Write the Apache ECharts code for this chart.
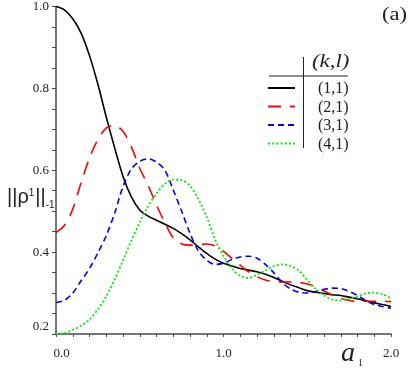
<!DOCTYPE html>
<html>
<head>
<meta charset="utf-8">
<script src="https://cdn.jsdelivr.net/npm/echarts@6/dist/echarts.min.js"></script>
<style>
  html, body { margin: 0; padding: 0; background: #fff; }
  #main { width: 415px; height: 370px; }
</style>
</head>
<body>
<div id="main"></div>
<script>
// a_1 sample points
var a1 = [0, 0.05, 0.1, 0.15, 0.2, 0.25, 0.3, 0.35, 0.4, 0.45, 0.5, 0.55, 0.6, 0.65, 0.7, 0.75, 0.8, 0.85, 0.9, 0.95,
  1.0, 1.05, 1.1, 1.15, 1.2, 1.25, 1.3, 1.35, 1.4, 1.45, 1.5, 1.55, 1.6, 1.65, 1.7, 1.75, 1.8, 1.85, 1.9, 1.95, 2.0];

// ||rho^1||_-1 for each (k,l)
var rho11 = [1.0, 0.992, 0.97, 0.935, 0.88, 0.81, 0.73, 0.655, 0.585, 0.535, 0.503, 0.488, 0.478, 0.468, 0.458, 0.445, 0.43, 0.413, 0.397, 0.383,
  0.373, 0.366, 0.36, 0.356, 0.352, 0.346, 0.338, 0.329, 0.32, 0.313, 0.306, 0.302, 0.299, 0.296, 0.294, 0.29, 0.286, 0.281, 0.276, 0.272, 0.267];
var rho21 = [0.448, 0.465, 0.505, 0.57, 0.63, 0.675, 0.703, 0.71, 0.695, 0.657, 0.605, 0.563, 0.515, 0.472, 0.435, 0.42, 0.417, 0.418, 0.42, 0.415,
  0.402, 0.385, 0.368, 0.352, 0.34, 0.332, 0.328, 0.327, 0.327, 0.326, 0.322, 0.315, 0.305, 0.295, 0.287, 0.282, 0.28, 0.28, 0.28, 0.28, 0.279];
var rho31 = [0.277, 0.282, 0.3, 0.33, 0.36, 0.398, 0.44, 0.495, 0.56, 0.603, 0.622, 0.628, 0.62, 0.6, 0.552, 0.5, 0.446, 0.403, 0.38, 0.37,
  0.373, 0.382, 0.388, 0.39, 0.385, 0.37, 0.35, 0.326, 0.31, 0.302, 0.3, 0.304, 0.309, 0.312, 0.311, 0.304, 0.294, 0.282, 0.272, 0.267, 0.263];
var rho41 = [0.2, 0.202, 0.21, 0.22, 0.235, 0.26, 0.292, 0.333, 0.38, 0.428, 0.473, 0.512, 0.543, 0.567, 0.577, 0.576, 0.562, 0.53, 0.486, 0.43,
  0.39, 0.36, 0.342, 0.337, 0.345, 0.355, 0.365, 0.37, 0.366, 0.355, 0.332, 0.31, 0.294, 0.284, 0.282, 0.286, 0.292, 0.299, 0.301, 0.297, 0.287];

var seriesNames = ['(1,1)', '(2,1)', '(3,1)', '(4,1)'];

// ticks and labels
var xLabelValues = [0, 1, 2];
var xTickValues = [0, 0.1, 0.2, 0.3, 0.4, 0.5, 0.6, 0.7, 0.8, 0.9, 1.0, 1.1, 1.2, 1.3, 1.4, 1.5, 1.6, 1.7, 1.8, 1.9, 2.0];
var yLabelValues = [0.2, 0.4, 0.6, 0.8, 1.0];
var yTickValues = [0.2, 0.25, 0.3, 0.35, 0.4, 0.45, 0.5, 0.55, 0.6, 0.65, 0.7, 0.75, 0.8, 0.85, 0.9, 0.95, 1.0];

function pairs(ys) {
  return a1.map(function (x, i) { return [x, ys[i]]; });
}

var serif = '"Liberation Serif", "DejaVu Serif", serif';
var axisColor = '#4a4a4a';
var textColor = '#222';

var myChart = echarts.init(document.getElementById('main'));

myChart.setOption({
  animation: false,
  backgroundColor: '#fff',
  grid: { left: 56, right: 24, top: 6, bottom: 36 },
  xAxis: {
    type: 'value',
    min: 0,
    max: 2,
    axisLine: { lineStyle: { color: axisColor, width: 1.5 } },
    axisTick: { customValues: xTickValues, length: 3, lineStyle: { color: axisColor } },
    axisLabel: {
      customValues: xLabelValues,
      margin: 13,
      color: textColor,
      fontFamily: serif,
      fontSize: 13,
      formatter: function (v) {
        return v === 0 ? '{first|0.0}' : v.toFixed(1);
      },
      rich: {
        first: { fontFamily: serif, fontSize: 13, color: textColor, padding: [0, 0, 0, 11] }
      }
    },
    splitLine: { show: false }
  },
  yAxis: {
    type: 'value',
    min: 0.2,
    max: 1.0,
    axisLine: { show: true, lineStyle: { color: axisColor, width: 1.5 } },
    axisTick: { show: true, customValues: yTickValues, length: 4, lineStyle: { color: axisColor } },
    axisLabel: {
      customValues: yLabelValues,
      margin: 7,
      color: textColor,
      fontFamily: serif,
      fontSize: 13,
      formatter: function (v) {
        return v < 0.3 ? '{low|' + v.toFixed(1) + '}' : v.toFixed(1);
      },
      rich: {
        low: { fontFamily: serif, fontSize: 13, color: textColor, padding: [0, 0, 14, 0] }
      }
    },
    splitLine: { show: false }
  },
  legend: {
    orient: 'vertical',
    left: 267,
    top: 79,
    itemWidth: 27,
    itemHeight: 14,
    itemGap: 0.5,
    padding: 0,
    data: seriesNames,
    itemStyle: { color: 'rgba(0,0,0,0)', borderWidth: 0 },
    formatter: function (name) { return '{t|' + name + '}'; },
    textStyle: {
      rich: {
        t: { fontFamily: serif, fontSize: 16, color: textColor, lineHeight: 14, padding: [2, 0, 0, 18] }
      }
    }
  },
  graphic: [
    { type: 'line', shape: { x1: 269, y1: 76, x2: 348, y2: 76 }, style: { stroke: textColor, lineWidth: 1 } },
    { type: 'line', shape: { x1: 303.5, y1: 57, x2: 303.5, y2: 148 }, style: { stroke: textColor, lineWidth: 1 } },
    { type: 'text', x: 312, y: 52, scaleX: 1.2, style: { text: '(k,l)', font: 'italic 19px ' + serif, fill: textColor } },
    { type: 'text', x: 382, y: 6, scaleX: 1.25, style: { text: '(a)', font: '18px ' + serif, fill: textColor } },
    {
      type: 'text', x: 341, y: 340,
      style: {
        text: '{a|a}{s|1}',
        rich: {
          a: { font: 'italic 28px ' + serif, fill: textColor },
          s: { font: '10px ' + serif, fill: textColor, padding: [18, 0, 0, 3] }
        }
      }
    },
    {
      type: 'text', x: 7, y: 185,
      style: {
        text: '{m|||\u03C1}{p|1}{m|||}{b|-1}',
        rich: {
          m: { font: '20px "Liberation Sans", Arial, sans-serif', fill: textColor },
          p: { font: '10px "Liberation Sans", Arial, sans-serif', fill: textColor, padding: [0, 1, 9, 0] },
          b: { font: '10px "Liberation Sans", Arial, sans-serif', fill: textColor, padding: [15, 0, 0, 0] }
        }
      }
    }
  ],
  series: [
    {
      name: seriesNames[0], type: 'line', smooth: 0.3, symbol: 'none',
      data: pairs(rho11),
      lineStyle: { color: '#000', width: 1.6, type: 'solid' },
      itemStyle: { color: '#000' }
    },
    {
      name: seriesNames[1], type: 'line', smooth: 0.3, symbol: 'none',
      data: pairs(rho21),
      lineStyle: { color: '#ff0000', width: 1.6, type: [13, 9] },
      itemStyle: { color: '#ff0000' }
    },
    {
      name: seriesNames[2], type: 'line', smooth: 0.3, symbol: 'none',
      data: pairs(rho31),
      lineStyle: { color: '#0000ff', width: 1.6, type: [6, 4] },
      itemStyle: { color: '#0000ff' }
    },
    {
      name: seriesNames[3], type: 'line', smooth: 0.3, symbol: 'none',
      data: pairs(rho41),
      lineStyle: { color: '#00ee00', width: 1.8, type: [2, 2.2] },
      itemStyle: { color: '#00ee00' }
    }
  ]
});
</script>
</body>
</html>
